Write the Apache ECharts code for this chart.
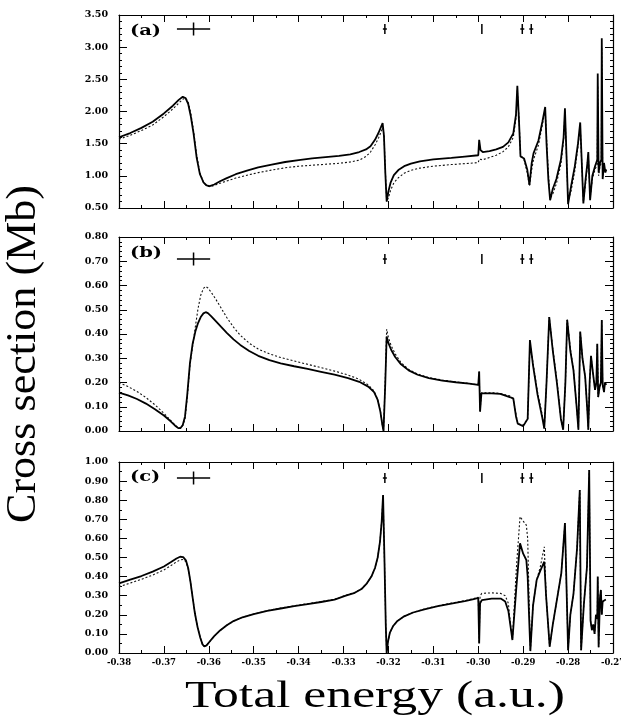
<!DOCTYPE html>
<html>
<head>
<meta charset="utf-8">
<script src="https://cdn.jsdelivr.net/npm/echarts@6/dist/echarts.min.js"></script>
<style>
  html, body { margin: 0; padding: 0; background: #fff; }
  #chart { width: 621px; height: 716px; }
</style>
</head>
<body>
<div id="chart"></div>
<script>
// ---- Panel (a): energies (a.u.) and cross sections (Mb) ----
const aEnergy = [-0.380,-0.3775,-0.375,-0.3725,-0.370,-0.368,-0.3667,-0.3658,-0.3652,-0.3646,
  -0.3640,-0.3634,-0.3627,-0.3620,-0.3612,-0.3605,-0.3598,-0.3588,-0.3575,-0.3560,
  -0.3540,-0.3515,-0.3490,-0.3460,-0.3430,-0.3400,-0.3370,-0.3340,-0.3310,-0.3285,
  -0.3265,-0.3250,-0.3240,-0.3230,-0.3222,-0.3216,-0.3213,-0.3210,-0.3207,-0.3204,
  -0.3200,-0.3195,-0.3188,-0.3178,-0.3165,-0.3150,-0.3130,-0.3100,-0.3060,-0.3030,
  -0.3000,-0.2998,-0.2995,-0.2990,-0.2975,-0.2960,-0.2945,-0.2933,-0.2922,-0.2916,
  -0.2913,-0.2909,-0.2906,-0.2898,-0.2891,-0.2886,-0.2881,-0.2877,-0.2866,-0.2857,
  -0.2851,-0.2848,-0.2844,-0.2840,-0.2834,-0.2826,-0.2816,-0.2810,-0.2807,-0.2800,
  -0.2793,-0.2785,-0.2778,-0.2773,-0.2766,-0.2761,-0.2757,-0.2755,-0.2751,-0.2746,
  -0.2740,-0.2735,-0.2734,-0.2732,-0.2729,-0.2726,-0.2725,-0.2723,-0.2720,-0.2717,
  -0.2715];
const aSolid = [1.60,1.665,1.745,1.84,1.97,2.09,2.18,2.23,2.21,2.12,
  1.92,1.66,1.28,1.03,0.90,0.85,0.84,0.865,0.915,0.965,
  1.025,1.08,1.13,1.175,1.215,1.245,1.27,1.29,1.31,1.335,
  1.37,1.41,1.46,1.56,1.67,1.77,1.82,1.62,1.05,0.60,
  0.76,0.90,1.01,1.09,1.15,1.19,1.225,1.255,1.28,1.30,
  1.32,1.56,1.40,1.37,1.385,1.41,1.45,1.52,1.66,1.95,
  2.40,1.80,1.30,1.27,1.10,0.86,1.20,1.35,1.55,1.85,
  2.07,1.50,0.95,0.62,0.80,0.95,1.25,1.60,2.05,0.56,
  0.85,1.15,1.50,1.83,0.57,0.95,1.20,1.37,0.62,1.00,
  1.15,1.25,2.59,1.05,1.20,1.25,3.14,0.95,1.20,1.05,
  1.10];
const aDotted = [1.57,1.63,1.705,1.79,1.92,2.04,2.13,2.19,2.21,2.15,
  1.97,1.70,1.32,1.05,0.90,0.845,0.83,0.85,0.885,0.92,
  0.965,1.01,1.05,1.09,1.125,1.15,1.165,1.18,1.195,1.215,
  1.245,1.30,1.37,1.48,1.59,1.69,1.75,1.64,1.10,0.60,
  0.66,0.78,0.89,0.97,1.04,1.085,1.12,1.15,1.175,1.19,
  1.205,1.26,1.24,1.25,1.285,1.32,1.375,1.45,1.60,1.90,
  2.33,1.85,1.33,1.25,1.05,0.84,1.10,1.25,1.48,1.80,
  2.03,1.60,1.05,0.65,0.72,0.88,1.18,1.55,2.00,0.60,
  0.78,1.08,1.45,1.78,0.60,0.88,1.15,1.33,0.65,0.95,
  1.10,1.18,2.40,1.00,1.15,1.20,3.00,1.00,1.15,1.10,
  1.08];

// ---- Panel (b) ----
const bEnergy = [-0.380,-0.378,-0.376,-0.374,-0.372,-0.370,-0.3685,-0.3675,-0.3668,-0.3663,
  -0.3658,-0.3653,-0.3648,-0.3642,-0.3636,-0.3630,-0.3624,-0.3618,-0.3612,-0.3607,
  -0.3602,-0.3595,-0.3585,-0.3573,-0.3560,-0.3545,-0.3530,-0.3510,-0.3490,-0.3465,
  -0.3440,-0.3410,-0.3380,-0.3350,-0.3320,-0.3290,-0.3265,-0.3245,-0.3232,-0.3224,
  -0.3218,-0.3214,-0.3211,-0.3207,-0.3204,-0.3200,-0.3194,-0.3185,-0.3172,-0.3155,
  -0.3135,-0.3110,-0.3080,-0.3050,-0.3020,-0.3000,-0.2998,-0.2996,-0.2993,-0.2970,
  -0.2951,-0.2930,-0.2922,-0.2916,-0.2912,-0.2900,-0.2890,-0.2885,-0.2878,-0.2868,
  -0.2858,-0.2853,-0.2848,-0.2842,-0.2834,-0.2825,-0.2816,-0.2811,-0.2806,-0.2802,
  -0.2795,-0.2788,-0.2781,-0.2777,-0.2775,-0.2773,-0.2768,-0.2762,-0.2757,-0.2755,
  -0.2752,-0.2749,-0.2745,-0.2740,-0.2737,-0.2735,-0.2733,-0.2730,-0.2727,-0.2725,
  -0.2723,-0.2720,-0.2718,-0.2715];
const bSolid = [0.158,0.147,0.132,0.113,0.090,0.064,0.040,0.022,0.012,0.012,
  0.025,0.060,0.150,0.280,0.360,0.410,0.445,0.470,0.485,0.490,
  0.486,0.474,0.454,0.430,0.405,0.378,0.355,0.330,0.310,0.292,
  0.279,0.267,0.256,0.244,0.232,0.218,0.203,0.183,0.160,0.128,
  0.080,0.030,0.000,0.200,0.390,0.362,0.335,0.305,0.275,0.250,
  0.232,0.218,0.208,0.201,0.195,0.190,0.245,0.080,0.155,0.155,
  0.153,0.140,0.135,0.060,0.030,0.020,0.050,0.375,0.270,0.150,
  0.060,0.010,0.200,0.470,0.330,0.200,0.050,0.005,0.200,0.458,
  0.330,0.250,0.100,0.005,0.200,0.410,0.300,0.224,0.080,0.005,
  0.200,0.310,0.245,0.170,0.200,0.360,0.140,0.180,0.200,0.458,
  0.190,0.160,0.200,0.190];
const bDotted = [0.200,0.183,0.163,0.138,0.108,0.073,0.044,0.024,0.013,0.012,
  0.022,0.050,0.140,0.270,0.350,0.430,0.505,0.560,0.588,0.596,
  0.590,0.573,0.545,0.508,0.468,0.428,0.395,0.362,0.338,0.318,
  0.303,0.289,0.275,0.261,0.247,0.231,0.213,0.190,0.165,0.130,
  0.082,0.030,0.000,0.220,0.420,0.385,0.352,0.318,0.282,0.254,
  0.235,0.220,0.210,0.202,0.196,0.190,0.245,0.080,0.158,0.158,
  0.155,0.145,0.130,0.070,0.030,0.025,0.050,0.360,0.280,0.160,
  0.070,0.010,0.200,0.470,0.340,0.210,0.050,0.005,0.200,0.460,
  0.340,0.255,0.100,0.005,0.200,0.410,0.300,0.224,0.080,0.005,
  0.200,0.310,0.245,0.170,0.200,0.360,0.140,0.180,0.200,0.458,
  0.190,0.160,0.200,0.190];

// ---- Panel (c) ----
const cEnergy = [-0.380,-0.3775,-0.375,-0.3725,-0.370,-0.3685,-0.3672,-0.3664,-0.3657,-0.3651,
  -0.3646,-0.3641,-0.3636,-0.3631,-0.3625,-0.3619,-0.3614,-0.3610,-0.3605,-0.3598,
  -0.3588,-0.3575,-0.3560,-0.3545,-0.3525,-0.3500,-0.3470,-0.3440,-0.3410,-0.3380,
  -0.3350,-0.3320,-0.3295,-0.3275,-0.3260,-0.3248,-0.3238,-0.3230,-0.3224,-0.3219,
  -0.3215,-0.3212,-0.3209,-0.3206,-0.3204,-0.3201,-0.3197,-0.3190,-0.3180,-0.3165,
  -0.3145,-0.3120,-0.3090,-0.3060,-0.3030,-0.3010,-0.3000,-0.2998,-0.2996,-0.2992,
  -0.2970,-0.2950,-0.2940,-0.2933,-0.2927,-0.2924,-0.2915,-0.2907,-0.2900,-0.2893,
  -0.2890,-0.2887,-0.2884,-0.2878,-0.2870,-0.2862,-0.2853,-0.2849,-0.2841,-0.2834,
  -0.2825,-0.2815,-0.2807,-0.2800,-0.2795,-0.2788,-0.2780,-0.2774,-0.2771,-0.2765,
  -0.2758,-0.2753,-0.2750,-0.2747,-0.2744,-0.2741,-0.2738,-0.2735,-0.2734,-0.2732,
  -0.2729,-0.2727,-0.2725,-0.2723,-0.2720,-0.2716];
const cSolid = [0.365,0.384,0.403,0.426,0.453,0.475,0.495,0.504,0.502,0.485,
  0.445,0.375,0.290,0.208,0.135,0.080,0.045,0.034,0.040,0.060,
  0.088,0.118,0.145,0.167,0.187,0.204,0.220,0.233,0.245,0.256,
  0.267,0.279,0.300,0.315,0.335,0.365,0.400,0.445,0.500,0.580,
  0.690,0.827,0.500,0.150,0.000,0.060,0.105,0.140,0.168,0.192,
  0.212,0.229,0.245,0.259,0.272,0.282,0.288,0.050,0.260,0.277,
  0.285,0.285,0.270,0.220,0.120,0.068,0.350,0.574,0.520,0.487,
  0.400,0.200,0.010,0.250,0.382,0.430,0.478,0.300,0.033,0.150,
  0.277,0.420,0.680,0.015,0.200,0.310,0.550,0.853,0.015,0.250,
  0.450,0.958,0.170,0.120,0.150,0.100,0.200,0.180,0.400,0.030,
  0.290,0.330,0.200,0.270,0.280,0.280];
const cDotted = [0.347,0.366,0.386,0.408,0.435,0.457,0.477,0.487,0.490,0.478,
  0.443,0.375,0.290,0.208,0.135,0.080,0.045,0.034,0.040,0.060,
  0.088,0.118,0.145,0.167,0.187,0.204,0.222,0.235,0.247,0.258,
  0.269,0.281,0.302,0.317,0.336,0.365,0.400,0.445,0.500,0.580,
  0.690,0.827,0.500,0.150,0.000,0.060,0.105,0.140,0.168,0.192,
  0.213,0.230,0.247,0.261,0.274,0.285,0.292,0.050,0.300,0.312,
  0.315,0.312,0.300,0.260,0.120,0.068,0.450,0.714,0.690,0.670,
  0.600,0.300,0.010,0.250,0.382,0.450,0.556,0.300,0.033,0.150,
  0.277,0.420,0.680,0.015,0.200,0.310,0.550,0.853,0.015,0.250,
  0.450,0.958,0.170,0.120,0.150,0.100,0.200,0.180,0.400,0.030,
  0.290,0.330,0.200,0.270,0.280,0.280];

// Threshold / resonance position markers: centre energy and half width (a.u.)
const markEnergy = [-0.3634, -0.3208, -0.2992, -0.2902, -0.2882];
const markHalfWidth = [0.0037, 0.0003, 0, 0.0003, 0.0003];

// Axis ranges
const xMin = -0.38, xMax = -0.27, xStep = 0.01;
const yRanges = [[0.5, 3.5, 0.5], [0, 0.8, 0.1], [0, 1.0, 0.1]];
const panelNames = ['(a)', '(b)', '(c)'];

// Layout of the three stacked panels (pixels)
const layout = [
  { top: 15,  height: 193, minor: 5, markOffset: 14, labelY: 31 },
  { top: 237, height: 194, minor: 5, markOffset: 22, labelY: 253 },
  { top: 462, height: 191, minor: 2, markOffset: 16, labelY: 477 }
];
const plotLeft = 119, plotWidth = 494;

const sets = [
  [aEnergy, aSolid, aDotted],
  [bEnergy, bSolid, bDotted],
  [cEnergy, cSolid, cDotted]
];

const xTickFont = { fontFamily: 'DejaVu Serif', fontWeight: 'bold', fontSize: 8.5, color: '#000' };
const yTickFont = { fontFamily: 'DejaVu Serif', fontWeight: 'bold', fontSize: 9.5, color: '#000' };
const axisLine = { onZero: false, lineStyle: { color: '#000', width: 1.2 } };

const grid = [], xAxis = [], yAxis = [], series = [], graphic = [];

layout.forEach((L, i) => {
  grid.push({ left: plotLeft, top: L.top, width: plotWidth, height: L.height, outerBoundsMode: 'none' });
  const [y0, y1, ys] = yRanges[i];
  ['bottom', 'top'].forEach(pos => {
    xAxis.push({
      gridIndex: i, type: 'value', position: pos, min: xMin, max: xMax, interval: xStep,
      axisLine: axisLine,
      axisTick: { inside: true, length: 7, lineStyle: { color: '#000', width: 1 } },
      minorTick: { show: true, splitNumber: 2, length: 3, lineStyle: { color: '#000', width: 1 } },
      splitLine: { show: false }, minorSplitLine: { show: false },
      axisLabel: Object.assign({ show: pos === 'bottom' && i === 2, margin: 5,
        formatter: v => v.toFixed(2) }, xTickFont)
    });
  });
  ['left', 'right'].forEach(pos => {
    yAxis.push({
      gridIndex: i, type: 'value', position: pos, min: y0, max: y1, interval: ys,
      axisLine: axisLine,
      axisTick: { inside: true, length: 8, lineStyle: { color: '#000', width: 1 } },
      minorTick: { show: true, splitNumber: L.minor, length: 3, lineStyle: { color: '#000', width: 1 } },
      splitLine: { show: false }, minorSplitLine: { show: false },
      axisLabel: Object.assign({ show: pos === 'left', margin: 11,
        formatter: v => v.toFixed(2) }, yTickFont)
    });
  });

  const [E, S, D] = sets[i];
  series.push({
    type: 'line', xAxisIndex: 2 * i, yAxisIndex: 2 * i,
    data: E.map((e, k) => [e, D[k]]),
    showSymbol: false, smooth: false, silent: true, clip: true,
    lineStyle: { color: '#111', width: 1.1, type: [2, 2] }
  });
  series.push({
    type: 'line', xAxisIndex: 2 * i, yAxisIndex: 2 * i,
    data: E.map((e, k) => [e, S[k]]),
    showSymbol: false, smooth: false, silent: true, clip: true,
    lineStyle: { color: '#000', width: 1.8 }
  });
  // resonance markers drawn at a fixed depth below the frame
  series.push({
    type: 'custom', xAxisIndex: 2 * i, yAxisIndex: 2 * i, silent: true, clip: false,
    data: markEnergy.map((e, k) => [e, markHalfWidth[k]]),
    encode: { x: 0, y: 1 },
    renderItem: (params, api) => {
      const cs = params.coordSys;
      const e = api.value(0), hw = api.value(1);
      const xc = api.coord([e, y0])[0];
      const yc = cs.y + L.markOffset;
      const hh = hw > 0.001 ? 6.5 : 5;
      const style = { stroke: '#000', lineWidth: 1.5 };
      const children = [{ type: 'line', shape: { x1: xc, y1: yc - hh, x2: xc, y2: yc + hh }, style }];
      if (hw > 0) {
        const xl = Math.min(api.coord([e - hw, y0])[0], xc - 2);
        const xr = Math.max(api.coord([e + hw, y0])[0], xc + 2);
        children.push({ type: 'line', shape: { x1: xl, y1: yc, x2: xr, y2: yc }, style });
      }
      return { type: 'group', children };
    }
  });

  graphic.push({
    type: 'text', x: 130, y: L.labelY, scaleX: 1.3,
    style: { text: panelNames[i], font: 'bold 15px "DejaVu Serif"', fill: '#000',
             textAlign: 'left', textVerticalAlign: 'middle' }
  });
});

graphic.push({
  type: 'text', x: 375, y: 697, scaleX: 1.36,
  style: { text: 'Total energy (a.u.)', font: '38px "Liberation Serif"', fill: '#000',
           textAlign: 'center', textVerticalAlign: 'middle' }
});
graphic.push({
  type: 'text', x: 24, y: 354, rotation: Math.PI / 2, scaleX: 1.05,
  style: { text: 'Cross section (Mb)', font: '42px "Liberation Serif"', fill: '#000',
           textAlign: 'center', textVerticalAlign: 'middle' }
});

const chart = echarts.init(document.getElementById('chart'), null, { renderer: 'canvas' });
chart.setOption({
  animation: false,
  backgroundColor: '#fff',
  grid, xAxis, yAxis, series, graphic
});
</script>
</body>
</html>
